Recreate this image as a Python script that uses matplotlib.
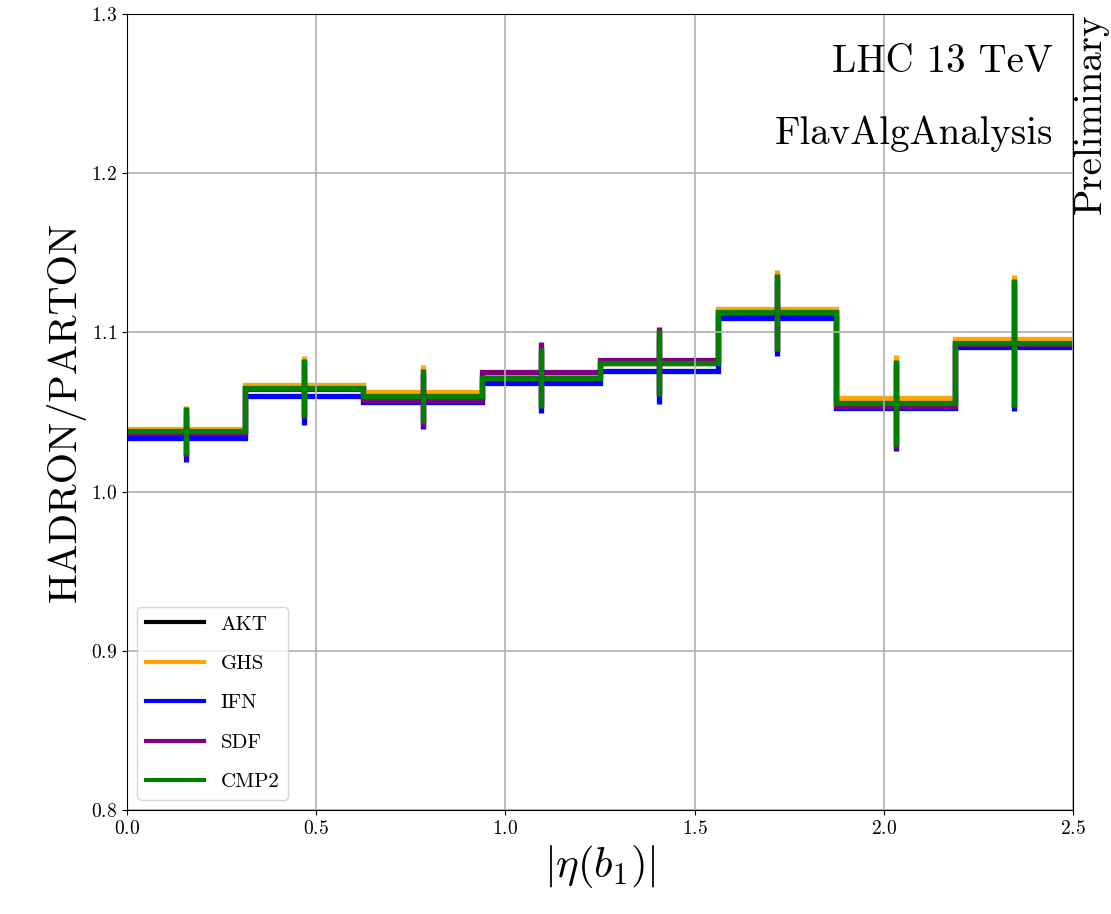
import matplotlib
matplotlib.use("Agg")
import matplotlib.pyplot as plt
import numpy as np

plt.rcParams['font.family'] = 'serif'
plt.rcParams['font.serif'] = ['cmr10']
plt.rcParams['mathtext.fontset'] = 'cm'
plt.rcParams['axes.formatter.use_mathtext'] = True

# bin edges in |eta(b1)|
edges = np.linspace(0.0, 2.5, 9)

# hadron/parton ratio per bin for each algorithm
akt = [1.038, 1.065, 1.060, 1.0714, 1.0808, 1.1126, 1.0559, 1.0933]
ghs = [1.039, 1.067, 1.0626, 1.0728, 1.0805, 1.115, 1.059, 1.0958]
ifn = [1.0335, 1.060, 1.0563, 1.0682, 1.0757, 1.1092, 1.0525, 1.0906]
sdf = [1.0368, 1.0645, 1.0575, 1.0751, 1.0827, 1.112, 1.054, 1.093]
cmp2 = [1.038, 1.065, 1.060, 1.0714, 1.0808, 1.1126, 1.0559, 1.0933]

# statistical errors per bin
err = [0.015, 0.018, 0.017, 0.019, 0.0205, 0.024, 0.027, 0.040]

series = [("AKT", akt, "black"),
          ("GHS", ghs, "orange"),
          ("IFN", ifn, "blue"),
          ("SDF", sdf, "purple"),
          ("CMP2", cmp2, "green")]

fig = plt.figure(figsize=(11.11, 9.14), dpi=100)
ax = fig.add_axes([0.1143, 0.1138, 0.8515, 0.8709])

centers = 0.5 * (edges[1:] + edges[:-1])
for name, vals, col in series:
    ax.stairs(vals, edges, baseline=None, color=col, lw=3.8, label=name)
    ax.errorbar(centers, vals, yerr=err, fmt='none', ecolor=col, elinewidth=3.8)

ax.set_xlim(0, 2.5)
ax.set_ylim(0.8, 1.3)
ax.grid(True, color='#b0b0b0', lw=1.2)
ax.tick_params(labelsize=14)
ax.set_xlabel(r'$|\eta(b_1)|$', fontsize=31)
ax.set_ylabel('HADRON/PARTON', fontsize=29)

ax.text(0.979, 0.94, 'LHC 13 TeV', transform=ax.transAxes, ha='right', va='center', fontsize=28)
ax.text(0.979, 0.85, 'FlavAlgAnalysis', transform=ax.transAxes, ha='right', va='center', fontsize=28)
ax.text(1.0, 1.0, 'Preliminary', transform=ax.transAxes, ha='left', va='top',
        rotation=90, fontsize=28)

leg = ax.legend(loc='lower left', fontsize=15, handlelength=2.8, labelspacing=1.0)
for h in leg.get_lines():
    h.set_linewidth(3)

fig.savefig('out.png', dpi=100)
